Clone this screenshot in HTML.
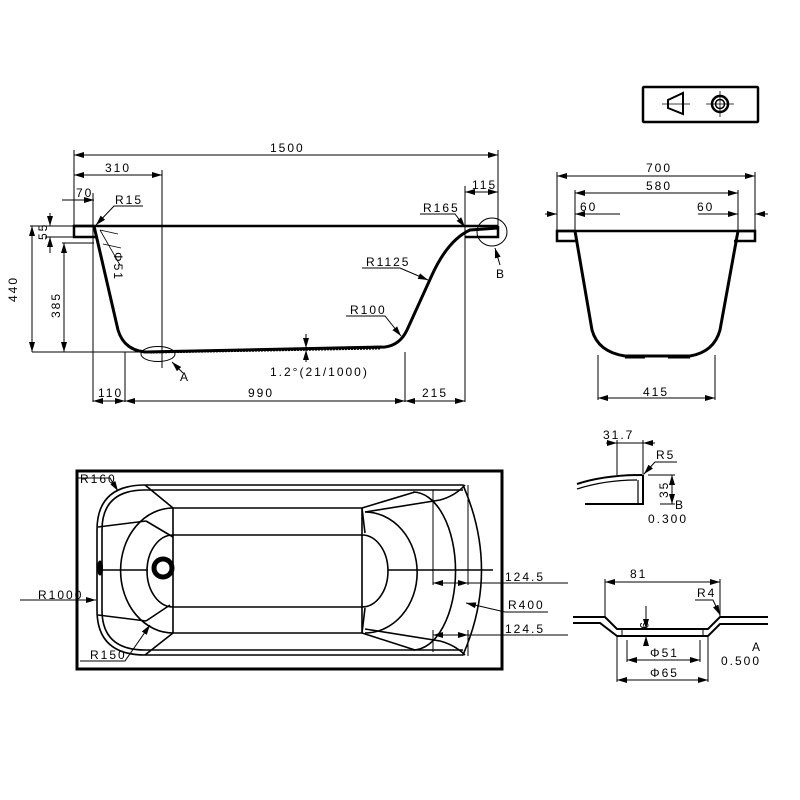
<!DOCTYPE html>
<html><head><meta charset="utf-8"><style>
html,body{margin:0;padding:0;background:#fff}
svg{display:block}
text{font-family:"Liberation Sans Narrow","Liberation Sans",sans-serif;font-size:12px;fill:#000;letter-spacing:2px}
</style></head><body>
<svg width="800" height="800" viewBox="0 0 800 800" xmlns="http://www.w3.org/2000/svg">
<defs>
<marker id="a" viewBox="0 0 10 6" refX="10" refY="3" markerWidth="10" markerHeight="6" orient="auto-start-reverse" markerUnits="userSpaceOnUse"><path d="M0,0L10,3L0,6z" fill="#000"/></marker>
</defs>
<g fill="none" stroke="#000" stroke-width="1">
<!-- symbol box -->
<rect x="643" y="87" width="115" height="35" stroke-width="2.5" rx="1"/>
<path d="M668,100L683,93L683,114L668,108Z" stroke-width="2"/>
<line x1="662" y1="104" x2="690" y2="104" stroke-width="0.8"/>
<circle cx="720" cy="104" r="8" stroke-width="2.5"/><circle cx="720" cy="104" r="4.5" stroke-width="1.5"/>
<line x1="706" y1="104" x2="734" y2="104" stroke-width="0.8"/><line x1="720" y1="91" x2="720" y2="117" stroke-width="0.8"/>

<!-- SIDE VIEW -->
<line x1="74" y1="226" x2="498" y2="226" stroke-width="2.5"/>
<path d="M94,226L74,226L74,237L97,237" stroke-width="2.5"/>
<path d="M465,237L498,237L498,226" stroke-width="2.5"/>
<path d="M94,226L118,330Q124,350 145,352L385,347Q400,345 407,330L432,275Q448,240 470,230L498,228" stroke-width="3"/>
<path d="M150,353L380,349" stroke-width="1" stroke-dasharray="2,1"/>
<!-- dims side -->
<line x1="74" y1="155" x2="498" y2="155" marker-start="url(#a)" marker-end="url(#a)"/>
<line x1="74" y1="150" x2="74" y2="226"/><line x1="498" y1="150" x2="498" y2="226"/>
<line x1="74" y1="175" x2="162" y2="175" marker-start="url(#a)" marker-end="url(#a)"/>
<line x1="162" y1="170" x2="162" y2="368"/>
<line x1="62" y1="200" x2="94" y2="200" marker-end="url(#a)"/><line x1="74" y1="200" x2="62" y2="200"/>
<line x1="93" y1="193" x2="93" y2="402"/>
<line x1="465" y1="186" x2="465" y2="402"/>
<line x1="465" y1="192" x2="498" y2="192" marker-start="url(#a)" marker-end="url(#a)"/>
<path d="M143,206L114,206L96,225" marker-end="url(#a)"/>
<line x1="50" y1="213" x2="50" y2="226" marker-end="url(#a)"/>
<line x1="50" y1="253" x2="50" y2="237" marker-end="url(#a)"/>
<line x1="45" y1="226" x2="74" y2="226"/><line x1="45" y1="237" x2="74" y2="237"/>
<line x1="32" y1="226" x2="32" y2="352" marker-start="url(#a)" marker-end="url(#a)"/>
<line x1="30" y1="226" x2="50" y2="226"/>
<line x1="64" y1="243" x2="64" y2="352" marker-start="url(#a)" marker-end="url(#a)"/>
<line x1="62" y1="243" x2="94" y2="243"/>
<line x1="32" y1="352" x2="145" y2="352"/>
<line x1="125" y1="352" x2="125" y2="402"/><line x1="405" y1="352" x2="405" y2="402"/>
<line x1="93" y1="401" x2="125" y2="401" marker-start="url(#a)" marker-end="url(#a)"/>
<line x1="125" y1="401" x2="405" y2="401" marker-start="url(#a)" marker-end="url(#a)"/>
<line x1="405" y1="401" x2="465" y2="401" marker-start="url(#a)" marker-end="url(#a)"/>
<path d="M100,230L118,234M103,244L121,248" stroke-width="0.8"/>
<line x1="100" y1="230" x2="120" y2="265" stroke-width="0.8"/>
<path d="M420,214L455,214L465,227" marker-end="url(#a)"/>
<path d="M362,268L400,268L428,280" marker-end="url(#a)"/>
<path d="M346,316L385,316L401,336" marker-end="url(#a)"/>
<ellipse cx="158" cy="354" rx="17" ry="7.5"/>
<ellipse cx="492" cy="232" rx="15" ry="14"/>
<line x1="183" y1="373" x2="172" y2="362" marker-end="url(#a)"/>
<line x1="500" y1="265" x2="495" y2="248" marker-end="url(#a)"/>
<line x1="306" y1="334" x2="306" y2="348" marker-end="url(#a)"/>
<line x1="306" y1="362" x2="306" y2="350" marker-end="url(#a)"/>

<!-- END VIEW -->
<line x1="557" y1="231" x2="755" y2="231" stroke-width="2.5"/>
<path d="M575,231L557,231L557,241L578,241" stroke-width="2.5"/>
<path d="M734,241L755,241L755,231L738,231" stroke-width="2.5"/>
<path d="M575,231L592,330Q598,352 625,356L690,356Q714,352 720,330L738,231" stroke-width="3"/>
<path d="M625,357L645,357M668,357L690,357" stroke-width="3"/>
<line x1="557" y1="176" x2="755" y2="176" marker-start="url(#a)" marker-end="url(#a)"/>
<line x1="557" y1="172" x2="557" y2="231"/><line x1="755" y1="172" x2="755" y2="231"/>
<line x1="575" y1="193" x2="738" y2="193" marker-start="url(#a)" marker-end="url(#a)"/>
<line x1="575" y1="190" x2="575" y2="231"/><line x1="738" y1="190" x2="738" y2="231"/>
<line x1="545" y1="214" x2="557" y2="214" marker-end="url(#a)"/>
<line x1="620" y1="214" x2="575" y2="214" marker-end="url(#a)"/>
<line x1="698" y1="214" x2="738" y2="214" marker-end="url(#a)"/>
<line x1="768" y1="214" x2="755" y2="214" marker-end="url(#a)"/>
<line x1="598" y1="355" x2="598" y2="400"/><line x1="715" y1="355" x2="715" y2="400"/>
<line x1="598" y1="398" x2="715" y2="398" marker-start="url(#a)" marker-end="url(#a)"/>

<!-- PLAN VIEW -->
<rect x="77" y="471" width="425" height="198" stroke-width="3"/>
<g stroke-width="1.6">
<path d="M145,485L463,485Q500,570 463,655L145,655Q97,655 97,610L97,530Q97,485 145,485Z"/>
<path d="M145,490L463,490M145,650L463,650M102,530Q102,490 145,490M102,610Q102,650 145,650M102,530L102,610"/>
<path d="M173,508L362,508L362,633L173,633Z"/>
<path d="M173,535L362,535M173,607L362,607"/>
<path d="M173,535A26,36 0 0 0 173,607"/>
<path d="M362,535A26,36 0 0 1 362,607"/>
<path d="M173,508A52,62 0 0 0 173,633"/>
<path d="M365,512A50,58 0 0 1 365,633"/>
<path d="M413,492A42,78 0 0 1 413,650"/>
<path d="M145,485L173,508M145,655L173,633M146,521L173,537M146,621L170,605"/>
<path d="M98,527L146,521M98,615L146,621"/>
<path d="M362,508L415,492M365,512L440,500Q455,496 465,485M362,508L365,533"/>
<path d="M362,633L415,650M365,629L440,641Q455,645 465,655M362,633L365,608"/>
<path d="M97,570L148,570M388,570L493,570"/>
</g>
<circle cx="163" cy="568" r="9" stroke-width="5"/>
<ellipse cx="100" cy="568" rx="2.5" ry="7" fill="#000"/>
<line x1="433" y1="490" x2="433" y2="585"/><line x1="468" y1="485" x2="468" y2="585"/>
<line x1="433" y1="583" x2="568" y2="583"/>
<line x1="450" y1="583" x2="433" y2="583" marker-end="url(#a)"/>
<line x1="450" y1="583" x2="468" y2="583" marker-end="url(#a)"/>
<line x1="433" y1="630" x2="433" y2="652"/><line x1="468" y1="630" x2="468" y2="656"/>
<line x1="433" y1="635" x2="568" y2="635"/>
<line x1="450" y1="635" x2="433" y2="635" marker-end="url(#a)"/>
<line x1="450" y1="635" x2="468" y2="635" marker-end="url(#a)"/>
<path d="M548,612L505,612L466,603" marker-end="url(#a)"/>
<path d="M20,600L96,600" marker-end="url(#a)"/>
<path d="M77,478L110,478L118,491" marker-end="url(#a)"/>
<path d="M80,661L125,661L150,625" marker-end="url(#a)"/>

<!-- DETAIL B -->
<path d="M577,484Q605,475 642,475" stroke-width="2"/>
<path d="M577,489Q605,480 637,480" stroke-width="1.2"/>
<path d="M585,504L643,504L643,475" stroke-width="2"/>
<line x1="638" y1="480" x2="638" y2="504" stroke-width="1.2"/>
<line x1="606" y1="443" x2="617" y2="443" marker-end="url(#a)"/>
<line x1="617" y1="443" x2="643" y2="443"/>
<line x1="655" y1="443" x2="643" y2="443" marker-end="url(#a)"/>
<line x1="617" y1="440" x2="617" y2="475"/><line x1="643" y1="440" x2="643" y2="475"/>
<path d="M677,462L655,462L644,474" marker-end="url(#a)"/>
<line x1="648" y1="475" x2="675" y2="475"/><line x1="660" y1="504" x2="675" y2="504"/>
<line x1="672" y1="490" x2="672" y2="475" marker-end="url(#a)"/>
<line x1="672" y1="490" x2="672" y2="504" marker-end="url(#a)"/>

<!-- DETAIL A -->
<path d="M573,617L605,617L617,629L708,629L720,617L768,617" stroke-width="2"/>
<path d="M573,623L600,623L617,636L708,636L720,624L768,624" stroke-width="2"/>
<path d="M622,629L622,636M703,629L703,636" stroke-width="1"/>
<line x1="605" y1="582" x2="720" y2="582" marker-start="url(#a)" marker-end="url(#a)"/>
<line x1="605" y1="579" x2="605" y2="616"/><line x1="720" y1="579" x2="720" y2="616"/>
<path d="M695,600L713,600L720,615" marker-end="url(#a)"/>
<line x1="646" y1="606" x2="646" y2="629" marker-end="url(#a)"/>
<line x1="646" y1="644" x2="646" y2="636" marker-end="url(#a)"/>
<line x1="627" y1="640" x2="627" y2="662"/><line x1="700" y1="640" x2="700" y2="662"/>
<line x1="627" y1="660" x2="700" y2="660" marker-start="url(#a)" marker-end="url(#a)"/>
<line x1="617" y1="636" x2="617" y2="682"/><line x1="708" y1="636" x2="708" y2="682"/>
<line x1="617" y1="680" x2="708" y2="680" marker-start="url(#a)" marker-end="url(#a)"/>
</g>

<!-- TEXT -->
<text x="270" y="152">1500</text>
<text x="105" y="172">310</text>
<text x="76" y="197">70</text>
<text x="115" y="204">R15</text>
<text x="472" y="189">115</text>
<text x="423" y="212">R165</text>
<text x="366" y="266">R1125</text>
<text x="350" y="314">R100</text>
<text x="180" y="381">A</text>
<text x="496" y="278">B</text>
<text x="270" y="376">1.2°(21/1000)</text>
<text x="98" y="397">110</text>
<text x="248" y="397">990</text>
<text x="422" y="397">215</text>
<text transform="translate(47,240) rotate(-90)">55</text>
<text transform="translate(17,302) rotate(-90)">440</text>
<text transform="translate(60,318) rotate(-90)">385</text>
<text transform="translate(114,252) rotate(90)">Φ51</text>
<text x="646" y="172">700</text>
<text x="646" y="190">580</text>
<text x="580" y="211">60</text>
<text x="697" y="211">60</text>
<text x="643" y="396">415</text>
<text x="80" y="483">R160</text>
<text x="38" y="599">R1000</text>
<text x="90" y="659">R150</text>
<text x="505" y="581">124.5</text>
<text x="508" y="609">R400</text>
<text x="505" y="633">124.5</text>
<text x="603" y="439">31.7</text>
<text x="656" y="459">R5</text>
<text transform="translate(668,498) rotate(-90)">35</text>
<text x="675" y="509">B</text>
<text x="648" y="523">0.300</text>
<text x="630" y="578">81</text>
<text x="697" y="597">R4</text>
<text transform="translate(640,622) rotate(90)">9</text>
<text x="650" y="657">Φ51</text>
<text x="650" y="677">Φ65</text>
<text x="752" y="651">A</text>
<text x="721" y="665">0.500</text>
</svg>
</body></html>
